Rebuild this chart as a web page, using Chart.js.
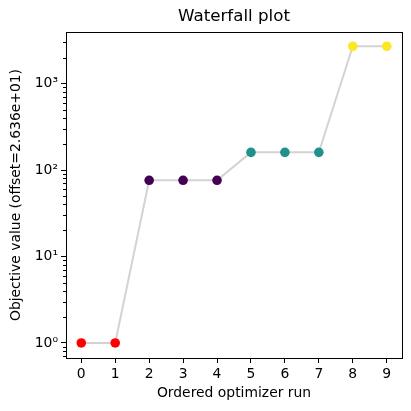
<!DOCTYPE html>
<html>
<head>
<meta charset="utf-8">
<script src="https://cdn.jsdelivr.net/npm/chart.js@4/dist/chart.umd.min.js"></script>
<style>
  html, body { margin: 0; padding: 0; background: #fff; }
  #wrap { width: 411px; height: 411px; }
</style>
</head>
<body>
<div id="wrap"><canvas id="chart" width="411" height="411"></canvas></div>
<script>
// Data
const runs = [0, 1, 2, 3, 4, 5, 6, 7, 8, 9];
const objValues = [1, 1, 76, 76, 76, 160, 160, 160, 2700, 2700];
const clusterColors = ['#ff0000', '#ff0000', '#440154', '#440154', '#440154',
                       '#21918c', '#21918c', '#21918c', '#fde725', '#fde725'];
const yMajorTicks = [1, 10, 100, 1000];
const yTickLabels = ['10\u2070', '10\u00b9', '10\u00b2', '10\u00b3'];

const FONT = 'DejaVu Sans';

// frame + minor log ticks
const framePlugin = {
    id: 'frame',
    afterDraw(chart) {
        const { ctx, chartArea: a } = chart;
        const y = chart.scales.y;
        ctx.save();
        ctx.strokeStyle = '#000';
        ctx.lineWidth = 1;
        // minor ticks
        ctx.beginPath();
        for (let e = -1; e <= 4; e++) {
            for (let m = 2; m <= 9; m++) {
                const v = m * Math.pow(10, e);
                if (v < y.min || v > y.max) continue;
                const py = Math.round(y.getPixelForValue(v)) + 0.5;
                ctx.moveTo(a.left, py);
                ctx.lineTo(a.left - 3, py);
            }
        }
        ctx.stroke();
        ctx.strokeRect(Math.round(a.left) + 0.5, Math.round(a.top) + 0.5,
            Math.round(a.right - a.left), Math.round(a.bottom - a.top));
        ctx.restore();
    }
};

const ctx = document.getElementById('chart').getContext('2d');
new Chart(ctx, {
    type: 'line',
    data: {
        datasets: [{
            data: runs.map((r, i) => ({ x: r, y: objValues[i] })),
            borderColor: '#d3d3d3',
            borderWidth: 2,
            pointBackgroundColor: clusterColors,
            pointBorderColor: clusterColors,
            pointRadius: 4.8,
            pointBorderWidth: 0,
            tension: 0,
            fill: false
        }]
    },
    options: {
        responsive: false,
        animation: false,
        layout: { padding: { right: 9, left: 0, top: 0, bottom: 0 } },
        plugins: {
            legend: { display: false },
            tooltip: { enabled: false },
            title: {
                display: true,
                text: 'Waterfall plot',
                fullSize: false,
                color: '#000',
                font: { family: FONT, size: 16.7, weight: 'normal' },
                padding: { top: 7, bottom: 5 }
            }
        },
        scales: {
            x: {
                type: 'linear',
                min: -0.45,
                max: 9.45,
                afterFit(scale) { scale.height = 53; },
                afterBuildTicks(scale) { scale.ticks = runs.map(r => ({ value: r })); },
                grid: { drawOnChartArea: false, drawTicks: true, tickLength: 5, color: '#000' },
                border: { display: false },
                ticks: {
                    color: '#000',
                    font: { family: FONT, size: 13.9 },
                    padding: 3,
                    maxRotation: 0,
                    autoSkip: false,
                    callback: v => String(v)
                },
                title: {
                    display: true,
                    text: 'Ordered optimizer run',
                    color: '#000',
                    font: { family: FONT, size: 13.9 },
                    padding: { top: 0, bottom: 9 }
                }
            },
            y: {
                type: 'logarithmic',
                min: 0.67,
                max: 3940,
                afterFit(scale) { scale.width = 66; },
                afterBuildTicks(scale) { scale.ticks = yMajorTicks.map(v => ({ value: v })); },
                grid: { drawOnChartArea: false, drawTicks: true, tickLength: 5, color: '#000' },
                border: { display: false },
                ticks: {
                    color: '#000',
                    font: { family: FONT, size: 13.9 },
                    padding: 3,
                    autoSkip: false,
                    callback: (v) => {
                        const i = yMajorTicks.indexOf(v);
                        return i >= 0 ? yTickLabels[i] : '';
                    }
                },
                title: {
                    display: true,
                    text: 'Objective value (offset=2.636e+01)',
                    color: '#000',
                    font: { family: FONT, size: 13.9 },
                    padding: { top: 8, bottom: 0 }
                }
            }
        }
    },
    plugins: [framePlugin]
});
</script>
</body>
</html>
